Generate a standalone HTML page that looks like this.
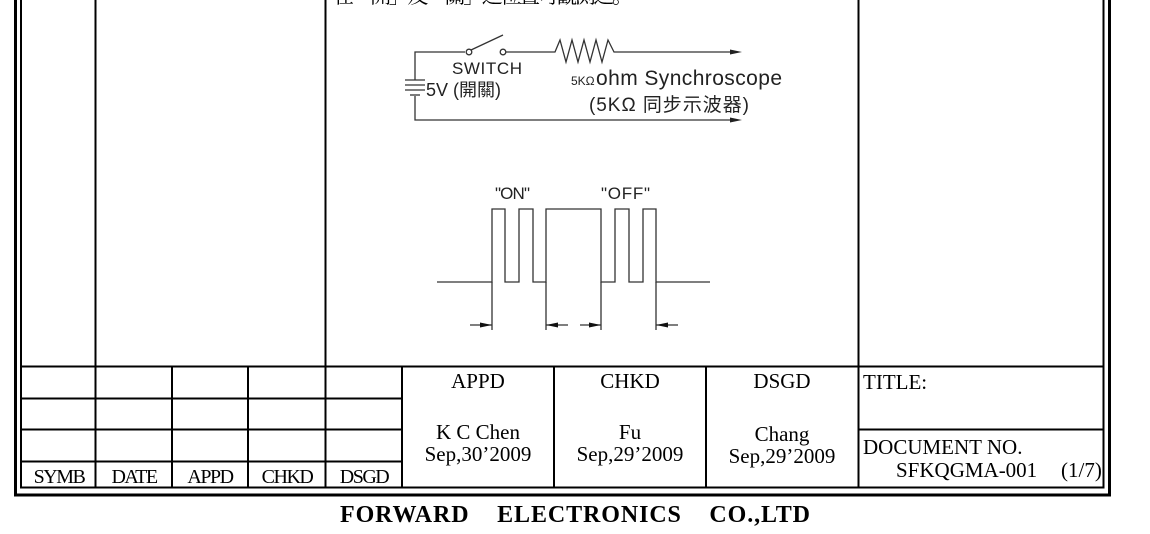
<!DOCTYPE html>
<html><head><meta charset="utf-8"><style>
html,body{margin:0;padding:0;background:#fff;width:1150px;height:534px;overflow:hidden}
svg{display:block}
.s{font-family:"Liberation Serif","Noto Serif CJK SC",serif;fill:#000}
.a{font-family:"DejaVu Sans","Liberation Sans","Noto Sans CJK TC",sans-serif;fill:#222}
.l{font-family:"Liberation Sans","Noto Sans CJK TC",sans-serif;fill:#222}
</style></head><body>
<svg width="1150" height="534" viewBox="0 0 1150 534" xmlns="http://www.w3.org/2000/svg">
<g stroke="#000" fill="none">
<polyline points="15.5,0 15.5,495 1109.5,495 1109.5,0" stroke-width="3"/>
<polyline points="21,0 21,487.5 1103.5,487.5 1103.5,0" stroke-width="2"/>
<line x1="95.5" y1="0" x2="95.5" y2="487" stroke-width="2"/>
<line x1="325.5" y1="0" x2="325.5" y2="487" stroke-width="2"/>
<line x1="858.5" y1="0" x2="858.5" y2="487" stroke-width="2"/>
<line x1="21" y1="366.5" x2="1103" y2="366.5" stroke-width="2"/>
<line x1="21" y1="398.5" x2="402" y2="398.5" stroke-width="2"/>
<line x1="21" y1="429.5" x2="402" y2="429.5" stroke-width="2"/>
<line x1="21" y1="461.5" x2="402" y2="461.5" stroke-width="2"/>
<line x1="172" y1="366" x2="172" y2="487" stroke-width="2"/>
<line x1="248" y1="366" x2="248" y2="487" stroke-width="2"/>
<line x1="402" y1="366" x2="402" y2="487" stroke-width="2"/>
<line x1="554" y1="366" x2="554" y2="487" stroke-width="2"/>
<line x1="706" y1="366" x2="706" y2="487" stroke-width="2"/>
<line x1="858" y1="429.5" x2="1103" y2="429.5" stroke-width="2"/>
</g>
<text x="333" y="3" class="s" font-size="21" textLength="300">在「開」及「關」之位置可觀測之。</text>
<g stroke="#333" fill="none" stroke-width="1.3">
<polyline points="465,52 415,52 415,80"/>
<polyline points="415,96 415,120 735,120"/>
<line x1="405" y1="80" x2="425" y2="80"/>
<line x1="405" y1="85" x2="425" y2="85"/>
<line x1="405" y1="90" x2="425" y2="90"/>
<line x1="410" y1="95" x2="420" y2="95"/>
<circle cx="469" cy="52" r="2.8"/>
<circle cx="503" cy="52" r="2.8"/>
<line x1="471" y1="50" x2="503" y2="35"/>
<polyline points="506,52 555,52 560,40 566,62 572,40 578,62 584,40 590,62 596,40 602,62 608,40 614,52 735,52"/>
</g>
<polygon points="742,52 730,49.5 730,54.5" fill="#222"/>
<polygon points="742,120 730,117.5 730,122.5" fill="#222"/>
<text x="452" y="74" class="l" font-size="17" textLength="70">SWITCH</text>
<text x="426" y="96" class="l" font-size="18">5V (開關)</text>
<text x="571" y="85" class="l" font-size="12">5KΩ</text>
<text x="596" y="85" class="l" font-size="21" textLength="186">ohm Synchroscope</text>
<text x="589" y="111" class="l" font-size="19" textLength="160">(5KΩ 同步示波器)</text>
<g stroke="#333" fill="none" stroke-width="1.3">
<polyline points="437,282 492,282 492,209 505,209 505,282 519,282 519,209 533,209 533,282 546,282 546,209 601,209 601,282 615,282 615,209 629,209 629,282 643,282 643,209 656,209 656,282 710,282"/>
<line x1="492" y1="282" x2="492" y2="330"/>
<line x1="546" y1="282" x2="546" y2="330"/>
<line x1="601" y1="282" x2="601" y2="330"/>
<line x1="656" y1="282" x2="656" y2="330"/>
<line x1="470" y1="325" x2="492" y2="325"/>
<line x1="546" y1="325" x2="568" y2="325"/>
<line x1="580" y1="325" x2="601" y2="325"/>
<line x1="656" y1="325" x2="678" y2="325"/>
</g>
<g fill="#111">
<polygon points="492,325 480,322.5 480,327.5"/>
<polygon points="546,325 558,322.5 558,327.5"/>
<polygon points="601,325 589,322.5 589,327.5"/>
<polygon points="656,325 668,322.5 668,327.5"/>
</g>
<text x="495" y="199" class="l" font-size="17" textLength="35">"ON"</text>
<text x="601" y="199" class="l" font-size="17" textLength="49">"OFF"</text>
<g class="s" font-size="21" text-anchor="middle">
<text x="59" y="483" font-size="20" letter-spacing="-1.5">SYMB</text>
<text x="134" y="483" font-size="20" letter-spacing="-1.5">DATE</text>
<text x="210" y="483" font-size="20" letter-spacing="-1.5">APPD</text>
<text x="287" y="483" font-size="20" letter-spacing="-1.5">CHKD</text>
<text x="364" y="483" font-size="20" letter-spacing="-1.5">DSGD</text>
<text x="478" y="388">APPD</text>
<text x="630" y="388">CHKD</text>
<text x="782" y="388">DSGD</text>
<text x="478" y="439">K C Chen</text>
<text x="478" y="461">Sep,30’2009</text>
<text x="630" y="439">Fu</text>
<text x="630" y="461">Sep,29’2009</text>
<text x="782" y="441">Chang</text>
<text x="782" y="463">Sep,29’2009</text>
</g>
<text x="863" y="389" class="s" font-size="21">TITLE:</text>
<text x="863" y="454" class="s" font-size="21">DOCUMENT NO.</text>
<text x="896" y="477" class="s" font-size="21">SFKQGMA-001</text>
<text x="1061" y="477" class="s" font-size="21">(1/7)</text>
<text x="575" y="522" class="s" font-size="24" font-weight="bold" text-anchor="middle" xml:space="preserve" textLength="470">FORWARD    ELECTRONICS    CO.,LTD</text>
</svg>
</body></html>
